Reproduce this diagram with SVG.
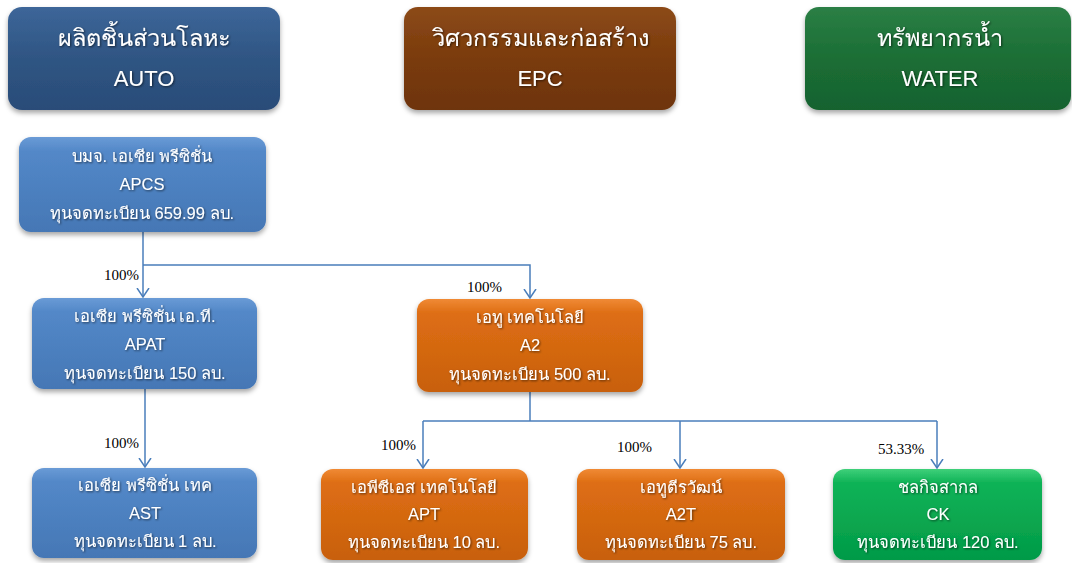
<svg xmlns="http://www.w3.org/2000/svg" width="1072" height="563" viewBox="0 0 1072 563">
<defs>
<linearGradient id="gHBlue" x1="0" y1="0" x2="0" y2="1"><stop offset="0" stop-color="#3d6699"/><stop offset="0.5" stop-color="#2f5583"/><stop offset="1" stop-color="#2a4c78"/></linearGradient>
<linearGradient id="gHBrown" x1="0" y1="0" x2="0" y2="1"><stop offset="0" stop-color="#8c4a17"/><stop offset="0.5" stop-color="#7a3b0d"/><stop offset="1" stop-color="#6e340a"/></linearGradient>
<linearGradient id="gHGreen" x1="0" y1="0" x2="0" y2="1"><stop offset="0" stop-color="#2b7f45"/><stop offset="0.5" stop-color="#1b6e35"/><stop offset="1" stop-color="#17622f"/></linearGradient>
<linearGradient id="gBlue" x1="0" y1="0" x2="0" y2="1"><stop offset="0" stop-color="#6a9bd6"/><stop offset="0.15" stop-color="#5388c8"/><stop offset="1" stop-color="#4577b5"/></linearGradient>
<linearGradient id="gOrange" x1="0" y1="0" x2="0" y2="1"><stop offset="0" stop-color="#f08a35"/><stop offset="0.15" stop-color="#de6e14"/><stop offset="1" stop-color="#c8600c"/></linearGradient>
<linearGradient id="gGreen" x1="0" y1="0" x2="0" y2="1"><stop offset="0" stop-color="#3fd07a"/><stop offset="0.15" stop-color="#10b357"/><stop offset="1" stop-color="#029a47"/></linearGradient>
<filter id="sh" x="-10%" y="-10%" width="120%" height="130%"><feDropShadow dx="0" dy="3" stdDeviation="2.5" flood-color="#000" flood-opacity="0.35"/></filter>
<filter id="tsh" x="-10%" y="-30%" width="120%" height="160%"><feDropShadow dx="1" dy="1" stdDeviation="0.8" flood-color="#000" flood-opacity="0.6"/></filter>
<marker id="arr" viewBox="0 0 10 14" refX="9" refY="7" markerWidth="10" markerHeight="14" markerUnits="userSpaceOnUse" orient="auto">
<path d="M0,1 L9,7 L0,13" fill="none" stroke="#4a7ebb" stroke-width="1.5"/>
</marker>
</defs>
<style>
.hdr{font-family:"Liberation Sans",sans-serif;font-size:23.5px;fill:#fff;text-anchor:middle;filter:url(#tsh)}
.hdr2{font-family:"Liberation Sans",sans-serif;font-size:22px;fill:#fff;text-anchor:middle;filter:url(#tsh)}
.t{font-family:"Liberation Sans",sans-serif;font-size:16.5px;fill:#fff;text-anchor:middle;filter:url(#tsh)}
.pct{font-family:"Liberation Serif",serif;font-size:15px;fill:#000}
.box{filter:url(#sh)}
.ln{fill:none;stroke:#4a7ebb;stroke-width:1.5}
</style>
<rect width="1072" height="563" fill="#fff"/>

<g id="hdr-auto"><rect class="box" x="8" y="7" width="272" height="103" rx="14" fill="url(#gHBlue)"/>
<text class="hdr" x="144" y="46">ผลิตชิ้นส่วนโลหะ</text><text class="hdr2" x="144" y="86">AUTO</text></g>
<g id="hdr-epc"><rect class="box" x="404" y="7" width="272" height="103" rx="14" fill="url(#gHBrown)"/>
<text class="hdr" x="540" y="46">วิศวกรรมและก่อสร้าง</text><text class="hdr2" x="540" y="86">EPC</text></g>
<g id="hdr-water"><rect class="box" x="805" y="7" width="266" height="103" rx="14" fill="url(#gHGreen)"/>
<text class="hdr" x="940" y="46">ทรัพยากรน้ำ</text><text class="hdr2" x="940" y="86">WATER</text></g>

<g id="connectors">
<path class="ln" d="M143,232 V297" marker-end="url(#arr)"/>
<path class="ln" d="M143,265 H530 V298" marker-end="url(#arr)"/>
<path class="ln" d="M145,389 V467" marker-end="url(#arr)"/>
<path class="ln" d="M530,392 V421"/>
<path class="ln" d="M423,421 H937"/>
<path class="ln" d="M423,421 V468" marker-end="url(#arr)"/>
<path class="ln" d="M680,421 V468" marker-end="url(#arr)"/>
<path class="ln" d="M937,421 V468" marker-end="url(#arr)"/>
<text class="pct" x="104" y="280">100%</text>
<text class="pct" x="467" y="292">100%</text>
<text class="pct" x="104" y="448">100%</text>
<text class="pct" x="381" y="450">100%</text>
<text class="pct" x="617" y="452">100%</text>
<text class="pct" x="878" y="454">53.33%</text>
</g>

<g id="apcs"><rect class="box" x="19" y="137" width="247" height="95" rx="12" fill="url(#gBlue)"/>
<text class="t" x="142" y="162">บมจ. เอเซีย  พรีซิชั่น</text><text class="t" x="142" y="190">APCS</text><text class="t" x="142" y="219">ทุนจดทะเบียน 659.99 ลบ.</text></g>

<g id="apat"><rect class="box" x="32" y="298" width="225" height="91" rx="12" fill="url(#gBlue)"/>
<text class="t" x="145" y="322">เอเซีย พรีซิชั่น เอ.ที.</text><text class="t" x="145" y="350">APAT</text><text class="t" x="145" y="379">ทุนจดทะเบียน 150 ลบ.</text></g>

<g id="ast"><rect class="box" x="32" y="468" width="225" height="90" rx="12" fill="url(#gBlue)"/>
<text class="t" x="145" y="491">เอเซีย พรีซิชั่น เทค</text><text class="t" x="145" y="519">AST</text><text class="t" x="145" y="547">ทุนจดทะเบียน 1 ลบ.</text></g>

<g id="a2"><rect class="box" x="417" y="299" width="226" height="93" rx="12" fill="url(#gOrange)"/>
<text class="t" x="530" y="323">เอทู เทคโนโลยี</text><text class="t" x="530" y="351">A2</text><text class="t" x="530" y="380">ทุนจดทะเบียน 500 ลบ.</text></g>

<g id="apt"><rect class="box" x="321" y="469" width="207" height="91" rx="12" fill="url(#gOrange)"/>
<text class="t" x="424" y="493">เอพีซีเอส เทคโนโลยี</text><text class="t" x="424" y="520">APT</text><text class="t" x="424" y="548">ทุนจดทะเบียน 10 ลบ.</text></g>

<g id="a2t"><rect class="box" x="577" y="469" width="208" height="91" rx="12" fill="url(#gOrange)"/>
<text class="t" x="681" y="493">เอทูตีรวัฒน์</text><text class="t" x="681" y="520">A2T</text><text class="t" x="681" y="548">ทุนจดทะเบียน 75 ลบ.</text></g>

<g id="ck"><rect class="box" x="833" y="469" width="209" height="91" rx="12" fill="url(#gGreen)"/>
<text class="t" x="938" y="493">ชลกิจสากล</text><text class="t" x="938" y="520">CK</text><text class="t" x="938" y="548">ทุนจดทะเบียน 120 ลบ.</text></g>
</svg>
